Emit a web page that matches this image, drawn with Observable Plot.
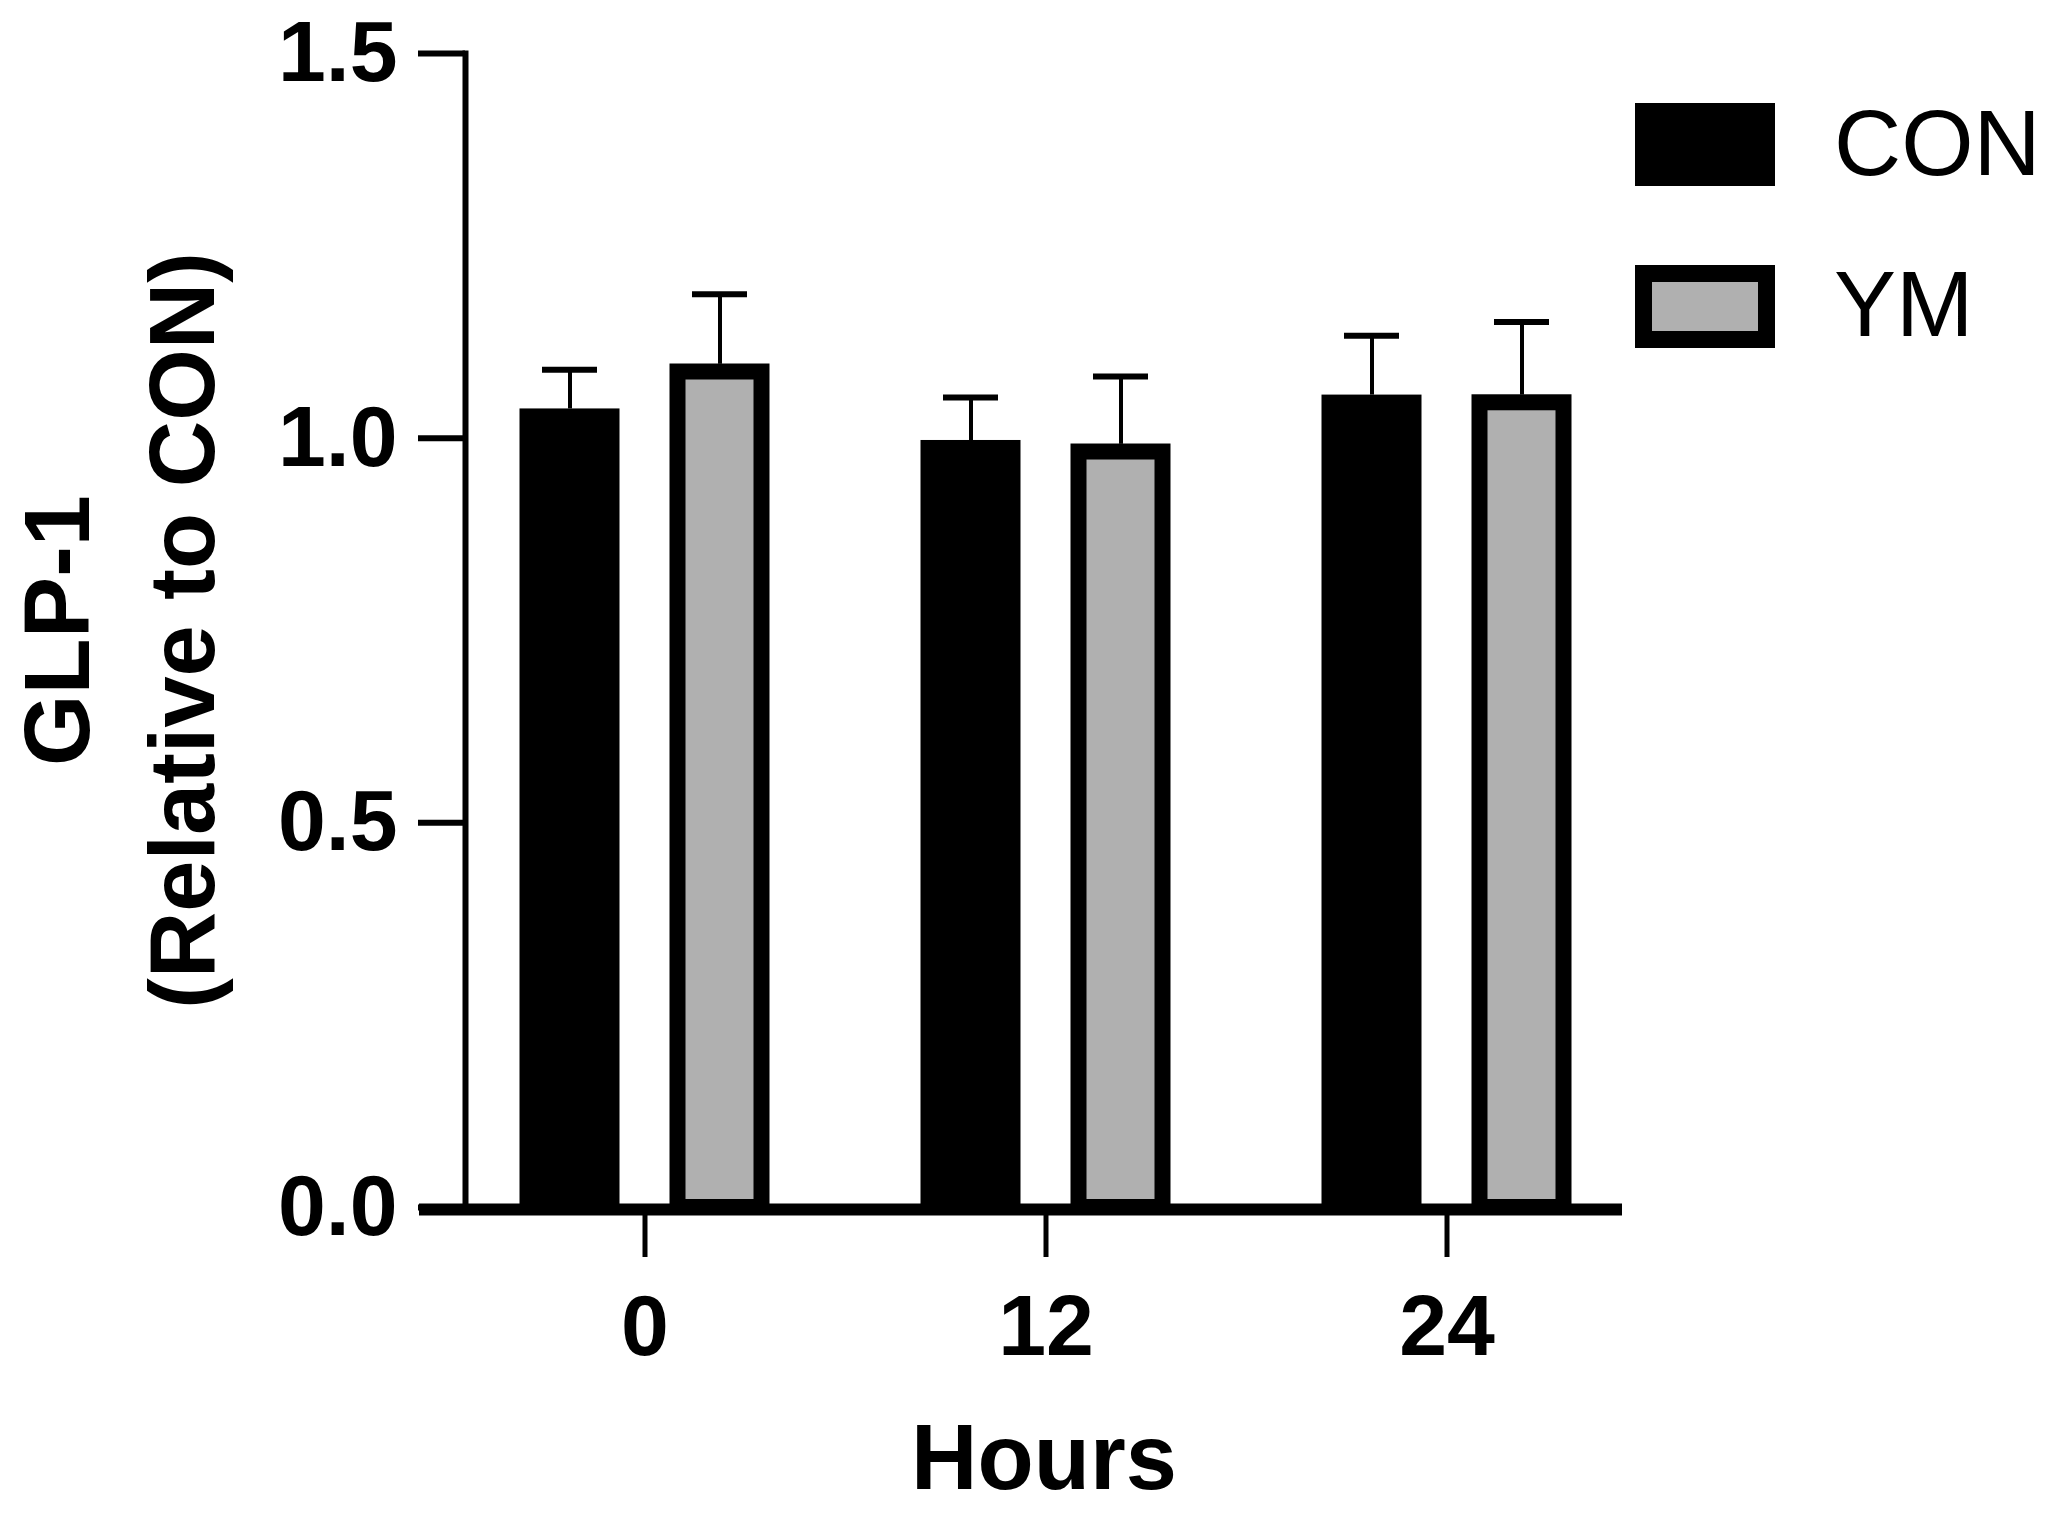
<!DOCTYPE html>
<html><head><meta charset="utf-8">
<script src="https://cdn.jsdelivr.net/npm/d3@7"></script>
<script src="https://cdn.jsdelivr.net/npm/@observablehq/plot@0.6"></script>
<style>
html,body{margin:0;padding:0;background:#fff;}
#wrap{position:relative;width:2061px;height:1514px;font-family:"Liberation Sans",Arial,sans-serif;}
#wrap svg{position:absolute;left:0;top:0;}
.sw{position:absolute;box-sizing:border-box;width:140px;}
.lab{position:absolute;font-size:93px;line-height:1;color:#000;font-family:"Liberation Sans",Arial,sans-serif;}
</style></head><body><div id="wrap"></div>
<script>
// ---- data ----
const hours = ["0", "12", "24"];
const series = ["CON", "YM"];
const conMean = [1.038, 0.997, 1.056];
const conErr = [0.051, 0.056, 0.077];
const ymMean = [1.086, 0.982, 1.046];
const ymErr = [0.101, 0.098, 0.105];
const yTicks = [0, 0.5, 1.0, 1.5];

const data = hours.map((h, i) => ({hour: h, con: conMean[i], conErr: conErr[i], ym: ymMean[i], ymErr: ymErr[i]}));

const W = 2061, H = 1514, mL = 465, mR = 439, mT = 53, mB = 307;
const frameW = W - mL - mR, frameH = H - mT - mB;
const off = 75;       // offset of each series from group centre (px)
const barInset = 150.5;
const ymInset = 158.5;
const capInset = 173;
const font = "'Liberation Sans', Arial, Helvetica, sans-serif";

const plot = Plot.plot({
  width: W,
  height: H,
  marginLeft: mL,
  marginRight: mR,
  marginTop: mT,
  marginBottom: mB,
  style: {fontFamily: font, fontWeight: "bold", fontSize: "86px", color: "black", background: "white", overflow: "visible"},
  x: {type: "band", domain: hours, range: [443.5, 1646.5], padding: 0},
  y: {domain: [0, 1.5]},
  marks: [
    Plot.barY(data, {x: "hour", y: "con", fill: "black", dx: -off, insetLeft: barInset, insetRight: barInset}),
    Plot.barY(data, {x: "hour", y: "ym", fill: "#b0b0b0", stroke: "black", strokeWidth: 16, dx: off, insetLeft: ymInset, insetRight: ymInset}),
    Plot.ruleX(data, {x: "hour", y1: "con", y2: d => d.con + d.conErr, dx: -off, strokeWidth: 4}),
    Plot.ruleX(data, {x: "hour", y1: d => d.ym + 0.01, y2: d => d.ym + d.ymErr, dx: off, strokeWidth: 4}),
    Plot.tickY(data, {x: "hour", y: d => d.con + d.conErr, dx: -off, insetLeft: capInset, insetRight: capInset, strokeWidth: 6}),
    Plot.tickY(data, {x: "hour", y: d => d.ym + d.ymErr, dx: off, insetLeft: capInset, insetRight: capInset, strokeWidth: 6}),
    // axis lines
    Plot.ruleY([0], {strokeWidth: 12, insetLeft: -46, dy: 2}),
    Plot.frame({anchor: "left", strokeWidth: 6}),
    // tick marks
    Plot.ruleY(yTicks, {y: d => d, insetLeft: -47, insetRight: frameW, strokeWidth: 6}),
    Plot.ruleX(hours, {x: d => d, insetTop: frameH, insetBottom: -50, strokeWidth: 5}),
    // tick labels
    Plot.axisY({ticks: yTicks, tickFormat: d3.format(".1f"), tickSize: 0, tickPadding: 68, fontSize: 86, fontWeight: "bold", label: null}),
    Plot.axisX({tickSize: 0, tickPadding: 86, fontSize: 86, fontWeight: "bold", label: null}),
    Plot.text(["Hours"], {text: d => d, frameAnchor: "bottom", lineAnchor: "top", dy: 216, fontSize: 92, fontWeight: "bold"}),
    Plot.text(["GLP-1\n(Relative to CON)"], {text: d => d, frameAnchor: "left", textAnchor: "middle", rotate: -90, dx: -354, lineHeight: 1.36, fontSize: 92, fontWeight: "bold"})
  ]
});

const wrap = document.getElementById("wrap");
wrap.appendChild(plot);

// legend
const legendItems = [
  {name: series[0], top: 103, height: 83, fill: "#000", border: "none", textTop: 97},
  {name: series[1], top: 265, height: 83, fill: "#b0b0b0", border: "17px solid #000", textTop: 258}
];
for (const it of legendItems) {
  const sw = document.createElement("div");
  sw.className = "sw";
  sw.style.left = "1635px";
  sw.style.top = it.top + "px";
  sw.style.height = it.height + "px";
  sw.style.background = it.fill;
  sw.style.border = it.border;
  wrap.appendChild(sw);
  const t = document.createElement("div");
  t.className = "lab";
  t.style.left = "1834px";
  t.style.top = it.textTop + "px";
  t.textContent = it.name;
  wrap.appendChild(t);
}
</script>
</body></html>
